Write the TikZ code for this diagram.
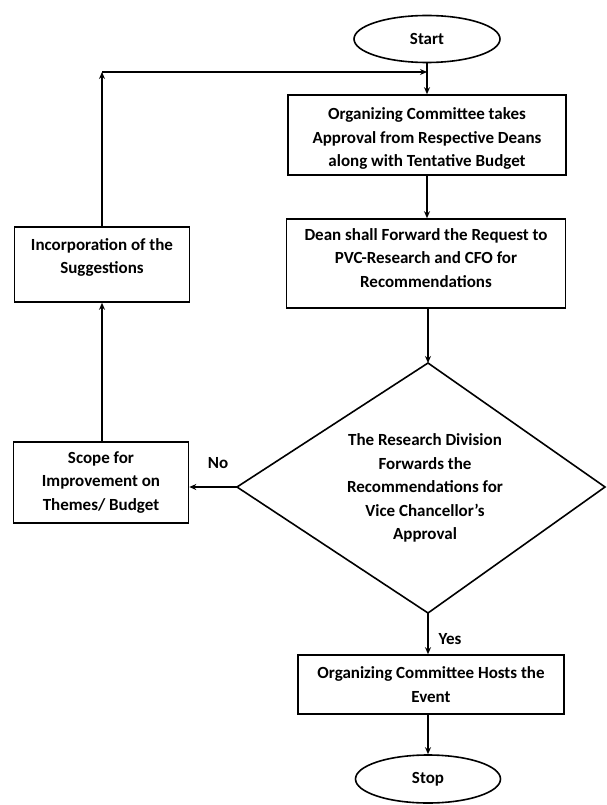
\documentclass[tikz,border=0pt]{standalone}
\usepackage{fontspec}
\setmainfont{Carlito}
\usetikzlibrary{arrows.meta,shapes.geometric}
\begin{document}
\begin{tikzpicture}[x=1pt,y=-1pt,
  every node/.style={font=\fontsize{17}{23.5}\selectfont\bfseries, align=center, inner sep=0pt},
  box/.style={draw, line width=1.6pt, rectangle},
  term/.style={draw, line width=1.6pt, ellipse},
  conn/.style={line width=1.6pt, -{Stealth[length=7pt,width=6pt]}},
  plain/.style={line width=1.6pt}]
\useasboundingbox (0,0) rectangle (606,805);
\node[term, minimum width=146pt, minimum height=47pt] (start) at (427,39) {Start};
\node[box, minimum width=278pt, minimum height=80pt] (b1) at (427,135) {};
\node (b1text) at (427,138.5)
  {Organizing Committee takes\\Approval from Respective Deans\\along with Tentative Budget};
\node[box, minimum width=279pt, minimum height=89pt] (b2) at (426,263.5) {};
\node (b2text) at (426,258)
  {Dean shall Forward the Request to\\PVC-Research and CFO for\\Recommendations};
\node[box, minimum width=175pt, minimum height=75pt] (inc) at (102,264.5) {};
\node (inctext) at (102,257.5) {Incorporation of the\\Suggestions};
\node[box, minimum width=175pt, minimum height=81pt] (scope) at (101,482.5)
  {Scope for\\Improvement on\\Themes/ Budget};
\coordinate (dtop) at (428,363);
\coordinate (dleft) at (237,487);
\coordinate (dbot) at (428,613);
\coordinate (dright) at (605,487);
\draw[plain, line join=miter] (dtop) -- (dright) -- (dbot) -- (dleft) -- cycle;
\node (dtext) at (425,488)
  {The Research Division\\Forwards the\\Recommendations for\\Vice Chancellor's\\Approval};
\node[box, minimum width=266pt, minimum height=59pt] (host) at (431,684.5)
  {Organizing Committee Hosts the\\Event};
\node[term, minimum width=145pt, minimum height=48pt] (stop) at (428,779) {Stop};
\coordinate (corner) at (102,72);
\coordinate (join) at (427,72);
\draw[conn] (start) -- (b1);
\draw[conn] (b1.south) -- (b1.south |- b2.north);
\draw[conn] (b2.south -| dtop) -- (dtop);
\draw[conn] (dleft) -- (dleft -| scope.east);
\node (no) at (218,463) {No};
\draw[conn] (scope.north -| inc.south) -- (inc.south);
\draw[conn] (inc.north) -- (corner);
\draw[conn] (corner) -- (join);
\draw[conn] (dbot) -- (dbot |- host.north);
\node (yes) at (450,639) {Yes};
\draw[conn] (host.south -| stop.north) -- (stop.north);
\end{tikzpicture}
\end{document}
